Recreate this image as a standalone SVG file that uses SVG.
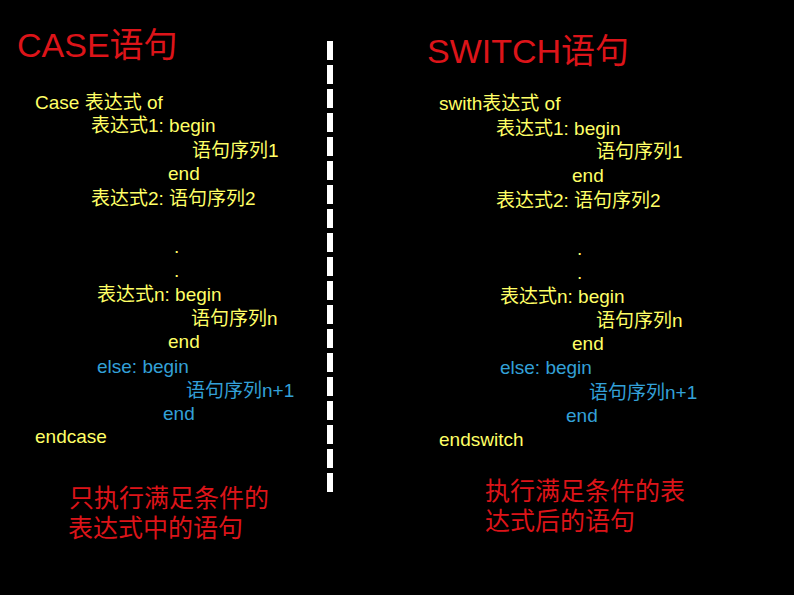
<svg xmlns="http://www.w3.org/2000/svg" width="794" height="595" viewBox="0 0 794 595">
<style>
text{font-family:"Liberation Sans","Noto Sans CJK SC",sans-serif;}
.t{font-size:34px;fill:#DC1419;}
.y{font-size:19px;fill:#FFFF66;}
.b{font-size:19px;fill:#33A0D8;}
.r{font-size:25px;fill:#DC1419;}
</style>
<rect x="0" y="0" width="794" height="595" fill="#000"/>
<g id="divider">
<line x1="330" y1="41" x2="330" y2="492" stroke="#fff" stroke-width="6" stroke-dasharray="19 5"/>
</g>
<g id="case">
<text class="t" x="17" y="57">CASE语句</text>
<text class="y" x="35" y="109">Case 表达式 of</text>
<text class="y" x="91" y="132">表达式1: begin</text>
<text class="y" x="192" y="157">语句序列1</text>
<text class="y" x="168" y="180">end</text>
<text class="y" x="91" y="205">表达式2: 语句序列2</text>
<text class="y" x="174" y="253">.</text>
<text class="y" x="174" y="277">.</text>
<text class="y" x="97" y="301">表达式n: begin</text>
<text class="y" x="191" y="325">语句序列n</text>
<text class="y" x="168" y="348">end</text>
<text class="b" x="97" y="373">else: begin</text>
<text class="b" x="186" y="397">语句序列n+1</text>
<text class="b" x="163" y="420">end</text>
<text class="y" x="35" y="443">endcase</text>
<text class="r" x="69" y="507">只执行满足条件的</text>
<text class="r" x="68" y="537">表达式中的语句</text>
</g>
<g id="switch">
<text class="t" x="427" y="63">SWITCH语句</text>
<text class="y" x="439" y="110">swith表达式 of</text>
<text class="y" x="496" y="135">表达式1: begin</text>
<text class="y" x="596" y="158">语句序列1</text>
<text class="y" x="572" y="182">end</text>
<text class="y" x="496" y="207">表达式2: 语句序列2</text>
<text class="y" x="577" y="255">.</text>
<text class="y" x="577" y="279">.</text>
<text class="y" x="500" y="303">表达式n: begin</text>
<text class="y" x="596" y="327">语句序列n</text>
<text class="y" x="572" y="350">end</text>
<text class="b" x="500" y="374">else: begin</text>
<text class="b" x="589" y="399">语句序列n+1</text>
<text class="b" x="566" y="422">end</text>
<text class="y" x="439" y="446">endswitch</text>
<text class="r" x="485" y="500">执行满足条件的表</text>
<text class="r" x="485" y="530">达式后的语句</text>
</g>
</svg>
